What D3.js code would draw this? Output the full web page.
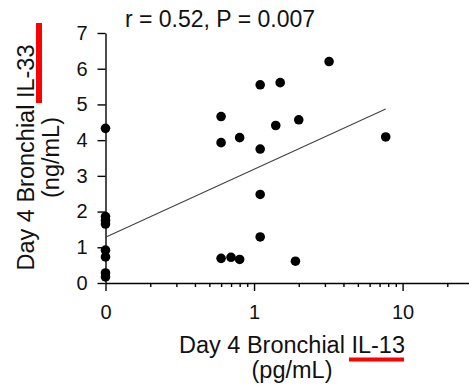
<!DOCTYPE html>
<html>
<head>
<meta charset="utf-8">
<script src="https://cdn.jsdelivr.net/npm/d3@7"></script>
<style>
  html, body { margin: 0; padding: 0; background: #fff; }
  svg { display: block; font-family: "Liberation Sans", Arial, sans-serif; }
</style>
</head>
<body>
<svg id="chart" width="469" height="388"></svg>
<script>
// IL-13 (pg/mL), 0 = below detection, drawn on the "0" position of the log axis
const il13 = [0, 0, 0, 0, 0, 0, 0, 0,
  0.6, 0.6, 0.8, 1.1, 1.1, 1.1, 1.5, 1.4, 2.0, 3.2, 7.7,
  0.6, 0.7, 0.8, 1.9, 1.1];
// IL-33 (ng/mL)
const il33 = [4.33, 1.86, 1.75, 1.65, 0.92, 0.73, 0.28, 0.17,
  4.66, 3.93, 4.07, 5.55, 3.75, 2.48, 5.61, 4.41, 4.57, 6.20, 4.09,
  0.69, 0.72, 0.66, 0.61, 1.29];

// regression line ends
const fitX = [0, 7.7];
const fitY = [1.28, 4.87];

const majorTicks = [0.1, 1, 10];
const majorLabels = ['0', '1', '10'];
const yTicks = [0, 1, 2, 3, 4, 5, 6, 7];
const statsText = 'r = 0.52, P = 0.007';

const zeroAt = 0.1;
const svg = d3.select('#chart');

const x = d3.scaleLog().domain([0.1, 28]).range([105.5, 469]);
const y = d3.scaleLinear().domain([0, 7]).range([283, 33]);
const xPos = v => x(v === 0 ? zeroAt : v);
const isMajor = d => majorTicks.some(m => Math.abs(m - d) < 1e-9);

// x axis
const xAxis = d3.axisBottom(x)
  .tickValues(x.ticks())
  .tickSize(8)
  .tickSizeOuter(0)
  .tickPadding(14)
  .tickFormat(d => {
    const i = majorTicks.findIndex(m => Math.abs(m - d) < 1e-9);
    return i >= 0 ? majorLabels[i] : '';
  });

const gx = svg.append('g')
  .attr('transform', `translate(0,${y(0)})`)
  .call(xAxis);
gx.selectAll('.tick line').attr('y2', d => isMajor(d) ? 8 : 4);

// y axis
const gy = svg.append('g')
  .attr('transform', `translate(${x(zeroAt)},0)`)
  .call(d3.axisLeft(y)
    .tickValues(yTicks)
    .tickFormat(d3.format('d'))
    .tickSize(8)
    .tickSizeOuter(0)
    .tickPadding(10));

[gx, gy].forEach(g => {
  g.selectAll('path, line').attr('stroke', '#000').attr('stroke-width', 1.4);
  g.selectAll('text').attr('fill', '#111').style('font-size', '20px');
});

// fit line
svg.append('line')
  .attr('x1', xPos(fitX[0])).attr('y1', y(fitY[0]))
  .attr('x2', xPos(fitX[1])).attr('y2', y(fitY[1]))
  .attr('stroke', '#444')
  .attr('stroke-width', 1.2);

// points
svg.append('g')
  .selectAll('circle')
  .data(il13.map((v, i) => [v, il33[i]]))
  .join('circle')
  .attr('cx', d => xPos(d[0]))
  .attr('cy', d => y(d[1]))
  .attr('r', 4.8)
  .attr('fill', '#000');

// stats
svg.append('text')
  .attr('x', 220).attr('y', 27)
  .attr('text-anchor', 'middle')
  .style('font-size', '23px')
  .attr('fill', '#111')
  .text(statsText);

// x label
const xl = svg.append('text')
  .attr('text-anchor', 'middle')
  .style('font-size', '23.5px')
  .attr('fill', '#111');
xl.append('tspan').attr('x', 292).attr('y', 353).text('Day 4 Bronchial IL-13');
xl.append('tspan').attr('x', 292).attr('y', 378).text('(pg/mL)');

svg.append('rect')
  .attr('x', 349).attr('y', 357.5)
  .attr('width', 55).attr('height', 4)
  .attr('fill', '#f00');

// y label
const yl = svg.append('text')
  .attr('text-anchor', 'middle')
  .attr('transform', 'translate(0,157.5) rotate(-90)')
  .style('font-size', '23.5px')
  .attr('fill', '#111');
yl.append('tspan').attr('x', 0).attr('y', 34).text('Day 4 Bronchial IL-33');
yl.append('tspan').attr('x', 0).attr('y', 59).text('(ng/mL)');

svg.append('rect')
  .attr('x', 36).attr('y', 23)
  .attr('width', 6).attr('height', 80)
  .attr('fill', '#f00');
</script>
</body>
</html>
